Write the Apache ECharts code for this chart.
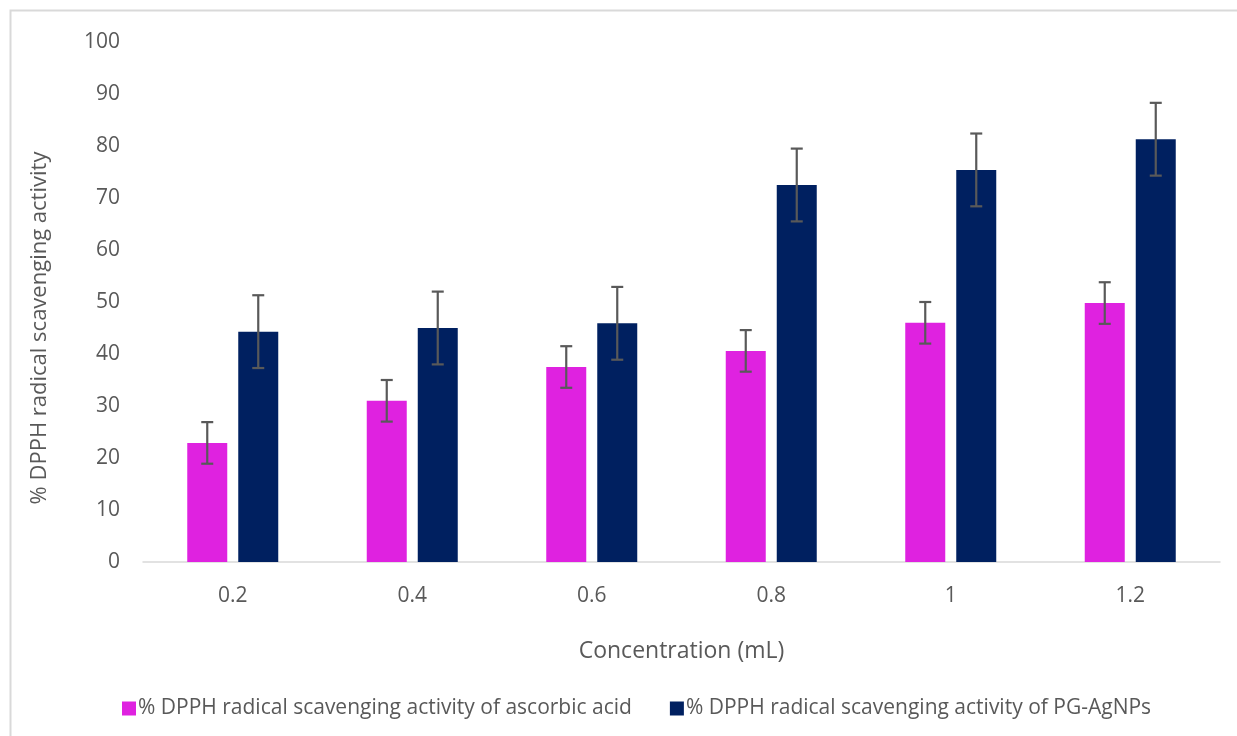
<!DOCTYPE html>
<html>
<head>
<meta charset="utf-8">
<script src="https://cdn.jsdelivr.net/npm/echarts@6/dist/echarts.min.js"></script>
<style>html,body{margin:0;padding:0;background:#fff;}#c{width:1237px;height:736px;}</style>
</head>
<body>
<div id="c"></div>
<script>
const categories = ['0.2', '0.4', '0.6', '0.8', '1', '1.2'];
const ascorbicValues = [22.9, 31.0, 37.5, 40.6, 46.0, 49.8];
const ascorbicErr = [4, 4, 4, 4, 4, 4];
const agnpValues = [44.3, 45.0, 45.9, 72.5, 75.4, 81.3];
const agnpErr = [7, 7, 7, 7, 7, 7];
const yTicks = { min: 0, max: 100, interval: 10 };
const seriesNames = ['% DPPH radical scavenging activity of ascorbic acid', '% DPPH radical scavenging activity of PG-AgNPs'];

const BAR_W = 40, GAP = 11;
const OFFSET = (BAR_W + GAP) / 2;

function errData(vals, errs) {
  return vals.map((v, i) => [i, v - errs[i], v + errs[i]]);
}
function errRender(offset) {
  return function (params, api) {
    const x = api.value(0);
    const lo = api.coord([x, api.value(1)]);
    const hi = api.coord([x, api.value(2)]);
    const cx = lo[0] + offset;
    const cap = 6;
    const style = { stroke: '#595959', lineWidth: 2.2 };
    return {
      type: 'group',
      children: [
        { type: 'line', shape: { x1: cx, y1: hi[1], x2: cx, y2: lo[1] }, style },
        { type: 'line', shape: { x1: cx - cap, y1: hi[1], x2: cx + cap, y2: hi[1] }, style },
        { type: 'line', shape: { x1: cx - cap, y1: lo[1], x2: cx + cap, y2: lo[1] }, style }
      ]
    };
  };
}

const FONT = "'Open Sans', 'Noto Sans', sans-serif";
const chart = echarts.init(document.getElementById('c'), null, { renderer: 'canvas' });
chart.setOption({
  animation: false,
  backgroundColor: '#fff',
  textStyle: { fontFamily: FONT },
  grid: { left: 143, right: 17, top: 42, bottom: 174, containLabel: false },
  legend: {
    data: seriesNames,
    left: 117,
    top: 693,
    itemWidth: 14,
    itemHeight: 14,
    itemGap: 38,
    icon: 'rect',
    textStyle: { color: '#595959', fontSize: 21, fontFamily: FONT, padding: [0, 0, 0, -3] }
  },
  xAxis: {
    type: 'category',
    data: categories,
    name: 'Concentration (mL)',
    nameLocation: 'middle',
    nameGap: 78,
    nameTextStyle: { color: '#595959', fontSize: 23, fontFamily: FONT },
    axisLine: { lineStyle: { color: '#d9d9d9', width: 1.5 } },
    axisTick: { show: false },
    axisLabel: { color: '#595959', fontSize: 21, margin: 24, fontFamily: FONT },
    splitLine: { show: false }
  },
  yAxis: {
    type: 'value',
    min: yTicks.min,
    max: yTicks.max,
    interval: yTicks.interval,
    axisLine: { show: false },
    axisTick: { show: false },
    splitLine: { show: false },
    axisLabel: { color: '#595959', fontSize: 21, margin: 23, fontFamily: FONT }
  },
  graphic: [
    {
      type: 'polyline', z: -1, silent: true,
      shape: { points: [[10.5, 740], [10.5, 10.5], [1240, 10.5]] },
      style: { fill: 'none', stroke: '#d9d9d9', lineWidth: 2 }
    },
    {
      type: 'text', x: 40, y: 328, rotation: Math.PI / 2,
      style: {
        text: '% DPPH radical scavenging activity',
        fill: '#595959', font: "22px 'Open Sans', 'Noto Sans', sans-serif",
        align: 'center', verticalAlign: 'middle'
      }
    }
  ],
  series: [
    {
      name: seriesNames[0], type: 'bar', data: ascorbicValues,
      barWidth: BAR_W, barGap: (GAP / BAR_W * 100) + '%',
      itemStyle: { color: '#DF22E0' }
    },
    {
      name: seriesNames[1], type: 'bar', data: agnpValues,
      barWidth: BAR_W, barGap: (GAP / BAR_W * 100) + '%',
      itemStyle: { color: '#002060' }
    },
    {
      type: 'custom', renderItem: errRender(-OFFSET),
      data: errData(ascorbicValues, ascorbicErr), z: 10, silent: true,
      encode: { x: 0, y: [1, 2] }
    },
    {
      type: 'custom', renderItem: errRender(OFFSET),
      data: errData(agnpValues, agnpErr), z: 10, silent: true,
      encode: { x: 0, y: [1, 2] }
    }
  ]
});
</script>
</body>
</html>
